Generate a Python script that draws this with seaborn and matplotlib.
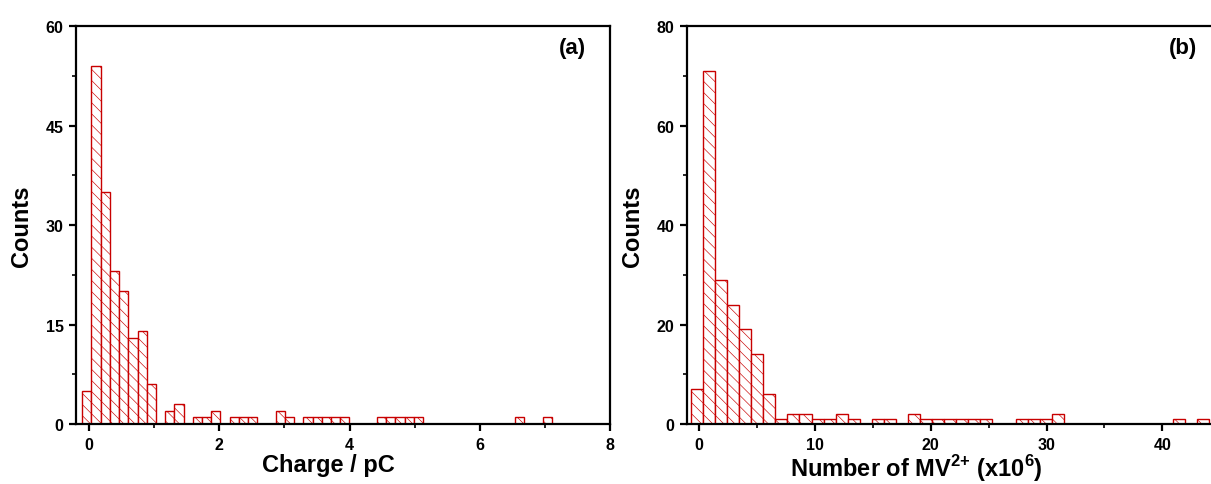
import numpy as np
import pandas as pd
import matplotlib
matplotlib.use('Agg')
from matplotlib import pyplot as plt
from matplotlib.ticker import MultipleLocator
import seaborn as sns

# (a) charge histogram: counts per bin, bins start at charge_start with width charge_width
charge_start = -0.105
charge_width = 0.1415
charge_counts = [5, 54, 35, 23, 20, 13, 14, 6, 0, 2,
                 3, 0, 1, 1, 2, 0, 1, 1, 1, 0,
                 0, 2, 1, 0, 1, 1, 1, 1, 1, 0,
                 0, 0, 1, 1, 1, 1, 1, 0, 0, 0,
                 0, 0, 0, 0, 0, 0, 0, 1, 0, 0,
                 1]

# (b) number of MV2+ (x10^6)
mv_start = -0.69
mv_width = 1.04
mv_counts = [7, 71, 29, 24, 19, 14, 6, 1, 2, 2,
             1, 1, 2, 1, 0, 1, 1, 0, 2, 1,
             1, 1, 1, 1, 1, 0, 0, 1, 1, 1,
             2, 0, 0, 0, 0, 0, 0, 0, 0, 0,
             1, 0, 1]

sns.set_style('ticks')
plt.rcParams['font.family'] = ['Liberation Sans', 'DejaVu Sans']
plt.rcParams['font.weight'] = 'bold'
plt.rcParams['mathtext.fontset'] = 'custom'
plt.rcParams['mathtext.bf'] = 'Liberation Sans:bold'
plt.rcParams['mathtext.rm'] = 'Liberation Sans:bold'
plt.rcParams['hatch.linewidth'] = 0.45
for key in ['text.color', 'axes.labelcolor', 'xtick.color', 'ytick.color']:
    plt.rcParams[key] = 'black'

edge_red = '#c80000'


def draw_hist(ax, start, width, counts):
    edges = start + width * np.arange(len(counts) + 1)
    df = pd.DataFrame({'value': (edges[:-1] + edges[1:]) / 2,
                       'count': np.array(counts, dtype=float)})
    sns.histplot(data=df, x='value', weights='count', bins=list(edges), ax=ax,
                 color='white', edgecolor=edge_red, hatch='\\\\\\',
                 linewidth=1.0, alpha=1)


def style_axes(ax):
    for s in ax.spines.values():
        s.set_linewidth(1.6)
        s.set_color('black')
    ax.tick_params(which='major', direction='out', length=5, width=1.6,
                   labelsize=11.5, pad=4)
    ax.tick_params(which='minor', direction='out', length=3, width=1.2)
    for lab in ax.get_xticklabels() + ax.get_yticklabels():
        lab.set_fontweight('bold')


fig = plt.figure(figsize=(12.11, 4.85), dpi=100)
ax1 = fig.add_axes([0.0628, 0.1237, 0.4409, 0.8206])
ax2 = fig.add_axes([0.5671, 0.1237, 0.4329, 0.8206])

draw_hist(ax1, charge_start, charge_width, charge_counts)
ax1.set_xlim(-0.2, 8)
ax1.set_ylim(0, 60)
ax1.xaxis.set_major_locator(MultipleLocator(2))
ax1.xaxis.set_minor_locator(MultipleLocator(1))
ax1.yaxis.set_major_locator(MultipleLocator(15))
ax1.yaxis.set_minor_locator(MultipleLocator(7.5))
ax1.set_xlabel('Charge / pC', fontsize=17, fontweight='bold')
ax1.xaxis.set_label_coords(0.473, -0.072)
ax1.set_ylabel('Counts', fontsize=17, fontweight='bold', labelpad=9)
ax1.text(0.929, 0.945, '(a)', transform=ax1.transAxes, fontsize=16,
         fontweight='bold', ha='center', va='center')
style_axes(ax1)

draw_hist(ax2, mv_start, mv_width, mv_counts)
ax2.set_xlim(-1.06, 44.2)
ax2.set_ylim(0, 80)
ax2.xaxis.set_major_locator(MultipleLocator(10))
ax2.xaxis.set_minor_locator(MultipleLocator(5))
ax2.yaxis.set_major_locator(MultipleLocator(20))
ax2.yaxis.set_minor_locator(MultipleLocator(10))
ax2.set_xlabel('Number of MV$^{\\mathbf{2{+}}}$ (x10$^{\\mathbf{6}}$)',
               fontsize=17, fontweight='bold')
ax2.xaxis.set_label_coords(0.437, -0.07)
ax2.set_ylabel('Counts', fontsize=17, fontweight='bold', labelpad=9)
ax2.text(0.947, 0.945, '(b)', transform=ax2.transAxes, fontsize=16,
         fontweight='bold', ha='center', va='center')
style_axes(ax2)
ax2.spines['right'].set_visible(False)

fig.savefig('out.png', dpi=100)
